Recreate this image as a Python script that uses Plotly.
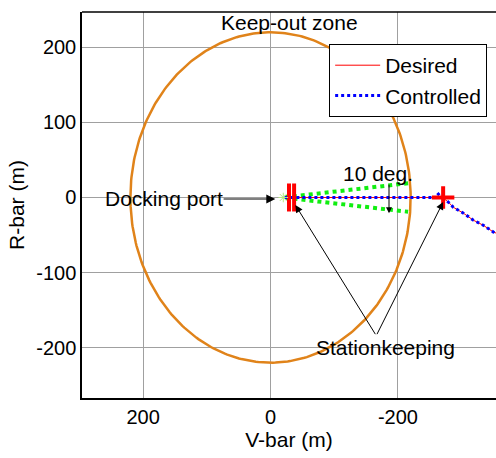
import numpy as np
import plotly.graph_objects as go

# ---- data ----
keepout_radius = 220
desired_x = [-20, -100, -200, -270, -279, -287, -303, -318, -334, -350, -362]
desired_y = [0, 0, 0, 0, -6, -13, -21, -30, -37, -46, -50]
controlled_x = [-262, -266, -270, -200, -100, -20]
controlled_y = [6, 2, 0, 0, 0, 0]
controlled_curve_x = [-270, -279, -287, -303, -318, -334, -350, -362]
controlled_curve_y = [0, -6, -13, -21, -30, -37, -46, -50]
cone_x = [-216, -20, -216]
cone_y = [19, 0, -19]
station_x = [-271]
station_y = [0]
hold_x = [-29, -37]
hold_y = [0, 0]
dock_x = [-20]
dock_y = [0]
x_ticks = [200, 0, -200]
x_ticklabels = ["200", "0", "-200"]
y_ticks = [200, 100, 0, -100, -200]
y_ticklabels = ["200", "100", "0", "-100", "-200"]

theta = np.linspace(0, 2 * np.pi, 361)
circ_x = keepout_radius * np.cos(theta)
circ_y = keepout_radius * np.sin(theta)

fig = go.Figure()
fig.add_trace(go.Scatter(x=circ_x, y=circ_y, mode="lines",
                         line=dict(color="#E0831A", width=2.5), showlegend=False, hoverinfo="skip"))
fig.add_trace(go.Scatter(x=cone_x, y=cone_y, mode="lines",
                         line=dict(color="#11EE11", width=4, dash="dot"), showlegend=False))
fig.add_trace(go.Scatter(x=desired_x, y=desired_y, mode="lines", name="Desired",
                         line=dict(color="red", width=1)))
fig.add_trace(go.Scatter(x=controlled_x, y=controlled_y, mode="lines", name="Controlled",
                         line=dict(color="blue", width=3, dash="dot")))
fig.add_trace(go.Scatter(x=controlled_curve_x, y=controlled_curve_y, mode="lines", showlegend=False,
                         line=dict(color="blue", width=3, dash="dot")))
fig.add_trace(go.Scatter(x=station_x, y=station_y, mode="markers", showlegend=False,
                         marker=dict(symbol="cross-thin", size=16, line=dict(color="red", width=4))))
fig.add_trace(go.Scatter(x=hold_x, y=hold_y, mode="markers", showlegend=False,
                         marker=dict(symbol="line-ns", size=20, line=dict(color="red", width=4))))
fig.add_trace(go.Scatter(x=dock_x, y=dock_y, mode="markers", showlegend=False,
                         marker=dict(symbol="asterisk-open", size=8, line=dict(color="red", width=1))))

fam = "Liberation Sans, Arial, sans-serif"
font = dict(family=fam, size=21, color="black")
tickfont = dict(family=fam, size=20, color="black")
ann = []
ann.append(dict(x=-30, y=233, text="Keep-out zone", showarrow=False, font=font))
ann.append(dict(x=-169, y=32, text="10 deg.", showarrow=False, font=font))
ann.append(dict(x=-186, y=-21, ax=-186, ay=19, axref="x", ayref="y", text="", showarrow=True,
                arrowhead=2, arrowsize=1.2, arrowwidth=1, arrowcolor="black"))
ann.append(dict(x=167, y=-2, text="Docking port", showarrow=False, font=font))
ann.append(dict(x=-7.5, y=-2, ax=76, ay=-2, axref="x", ayref="y", text="", showarrow=True,
                arrowhead=2, arrowsize=1.5, arrowwidth=1.2, arrowcolor="black"))
ann.append(dict(x=-181, y=-200, text="Stationkeeping", showarrow=False, font=font))
ann.append(dict(x=-39, y=-10, ax=-166, ay=-184, axref="x", ayref="y", text="", showarrow=True,
                arrowhead=2, arrowsize=1.5, arrowwidth=1, arrowcolor="black"))
ann.append(dict(x=-271, y=-6, ax=-166, ay=-184, axref="x", ayref="y", text="", showarrow=True,
                arrowhead=2, arrowsize=1.5, arrowwidth=1, arrowcolor="black"))

fig.update_layout(
    width=496, height=458,
    margin=dict(l=82, r=0, t=12, b=60),
    plot_bgcolor="white", paper_bgcolor="white",
    font=font,
    annotations=ann,
    legend=dict(x=0.597, y=0.917, xanchor="left", yanchor="top",
                bordercolor="black", borderwidth=1, bgcolor="white",
                font=dict(family=fam, size=21),
                tracegroupgap=0, itemwidth=45),
    shapes=[dict(type="line", xref="paper", yref="paper", x0=0, x1=1, y0=1, y1=1,
                 line=dict(color="black", width=1.5))],
)
fig.update_xaxes(range=[296, -354], tickvals=x_ticks, ticktext=x_ticklabels,
                 showgrid=True, gridcolor="#A0A0A0", gridwidth=1, zeroline=False,
                 showline=True, linecolor="black", linewidth=1.5, ticks="",
                 title=dict(text="V-bar (m)", standoff=6, font=dict(family=fam, size=21)),
                 tickfont=tickfont)
fig.update_yaxes(range=[-267, 247], tickvals=y_ticks, ticktext=y_ticklabels,
                 showgrid=True, gridcolor="#A0A0A0", gridwidth=1, zeroline=False,
                 showline=True, linecolor="black", linewidth=1.5, ticks="",
                 title=dict(text="R-bar (m)", standoff=6, font=dict(family=fam, size=21)),
                 tickfont=tickfont)

fig.write_html("out.html")
